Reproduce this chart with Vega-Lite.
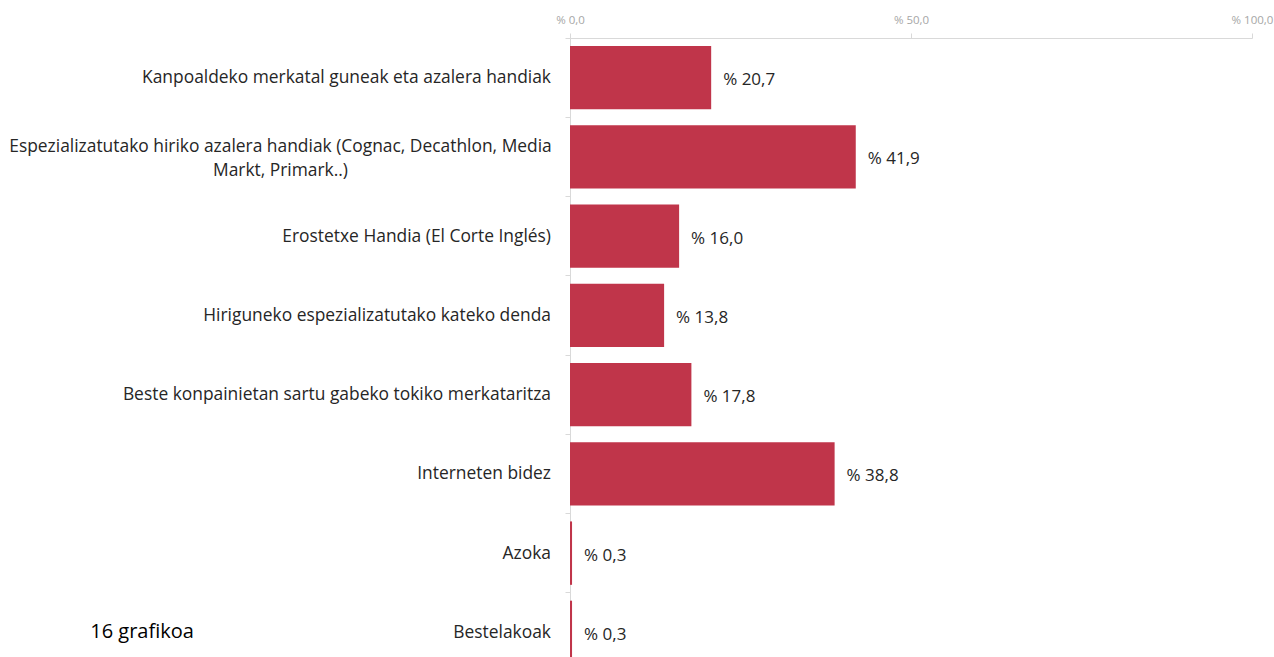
{
  "$schema": "https://vega.github.io/schema/vega-lite/v6.json",
  "autosize": {"type": "none"},
  "width": 682,
  "height": 634,
  "padding": {"left": 570, "top": 38, "right": 22, "bottom": 0},
  "background": "white",
  "title": {
    "text": "16 grafikoa",
    "orient": "bottom",
    "anchor": "start",
    "frame": "bounds",
    "offset": -50,
    "dx": 81,
    "fontSize": 20,
    "font": "Open Sans",
    "fontWeight": "normal",
    "color": "#000000"
  },
  "config": {
    "view": {"stroke": null},
    "font": "Open Sans",
    "locale": {
      "number": {"decimal": ",", "thousands": ".", "grouping": [3], "currency": ["% ", ""]}
    }
  },
  "data": {
    "values": [
      {"kategoria": "Kanpoaldeko merkatal guneak eta azalera handiak", "balioa": 20.7},
      {"kategoria": "Espezializatutako hiriko azalera handiak (Cognac, Decathlon, Media Markt, Primark..)", "balioa": 41.9},
      {"kategoria": "Erostetxe Handia (El Corte Inglés)", "balioa": 16.0},
      {"kategoria": "Hiriguneko espezializatutako kateko denda", "balioa": 13.8},
      {"kategoria": "Beste konpainietan sartu gabeko tokiko merkataritza", "balioa": 17.8},
      {"kategoria": "Interneten bidez", "balioa": 38.8},
      {"kategoria": "Azoka", "balioa": 0.3},
      {"kategoria": "Bestelakoak", "balioa": 0.3}
    ]
  },
  "encoding": {
    "y": {
      "field": "kategoria",
      "type": "nominal",
      "sort": null,
      "scale": {"paddingInner": 0, "paddingOuter": 0},
      "axis": {
        "title": null,
        "bandPosition": 0,
        "labels": false,
        "domainColor": "#d9d9d9",
        "tickColor": "#d9d9d9",
        "tickSize": 5,
        "grid": false
      }
    },
    "x": {
      "field": "balioa",
      "type": "quantitative",
      "scale": {"domain": [0, 100], "nice": false},
      "axis": {
        "orient": "top",
        "title": null,
        "values": [0, 50, 100],
        "format": "$.1f",
        "labelFlush": false,
        "labelFontSize": 11.5,
        "labelColor": "#a6a6a6",
        "labelPadding": 8,
        "domainColor": "#d9d9d9",
        "tickColor": "#d9d9d9",
        "tickSize": 5,
        "grid": false
      }
    }
  },
  "layer": [
    {
      "mark": {"type": "bar", "color": "#C0354A", "height": {"band": 0.8}}
    },
    {
      "mark": {"type": "text", "align": "left", "dx": 12, "dy": 2.5, "fontSize": 17, "color": "#262626"},
      "encoding": {
        "text": {"field": "balioa", "type": "quantitative", "format": "$.1f"}
      }
    },
    {
      "transform": [{"filter": "indexof(datum.kategoria, 'Cognac') < 0"}],
      "mark": {"type": "text", "align": "right", "baseline": "middle", "dx": -19, "dy": 0.5, "fontSize": 17.4, "color": "#262626"},
      "encoding": {
        "x": {"datum": 0},
        "text": {"field": "kategoria", "type": "nominal"}
      }
    },
    {
      "transform": [{"filter": "indexof(datum.kategoria, 'Cognac') >= 0"}],
      "mark": {
        "type": "text",
        "align": "center",
        "baseline": "middle",
        "dx": -289.5,
        "dy": -9.5,
        "lineHeight": 24,
        "fontSize": 17.4,
        "color": "#262626",
        "text": ["Espezializatutako hiriko azalera handiak (Cognac, Decathlon, Media", "Markt, Primark..)"]
      },
      "encoding": {
        "x": {"datum": 0}
      }
    }
  ]
}
